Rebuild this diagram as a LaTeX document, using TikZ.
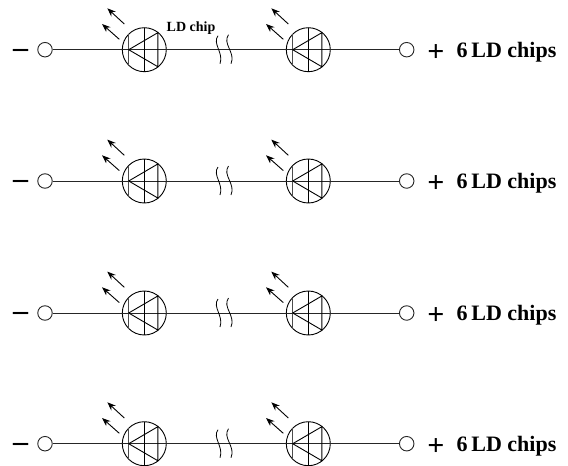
\documentclass[tikz,border=0pt]{standalone}
\usepackage{fontspec}
\setmainfont{Liberation Serif}
\usetikzlibrary{arrows.meta}
\tikzset{
  wire/.style={line width=0.9pt,black!85},
  term/.style={circle,draw,line width=0.9pt,black!85,minimum size=14.5pt,inner sep=0pt},
  ledcirc/.style={circle,draw,line width=0.9pt,black,minimum size=44pt,inner sep=0pt},
  bigtxt/.style={font=\fontsize{22}{24}\selectfont\bfseries,inner sep=0pt},
  signtxt/.style={font=\fontsize{30}{31}\selectfont\bfseries,inner sep=0pt},
  smalltxt/.style={font=\fontsize{14}{16}\selectfont\bfseries,inner sep=0pt},
  lightarrow/.style={line width=0.9pt,-{Stealth[length=8.5pt,width=6.5pt]}},
  breakmark/.style={line width=0.8pt,black}
}
\begin{document}
\begin{tikzpicture}[x=1pt,y=-1pt]
\useasboundingbox (0,0) rectangle (568,466);
\foreach \r/\y in {1/49.7,2/181,3/313,4/443.7}{
  \begin{scope}[shift={(0,\y)}]
    \node[term] (tl\r) at (45,0) {};
    \node[term] (tr\r) at (406.7,0) {};
    \node[ledcirc] (a\r) at (144.3,0) {};
    \node[ledcirc] (b\r) at (308.3,0) {};
    \node[signtxt] (minus\r) at (20.5,3.5) {–};
    \node[signtxt] (plus\r) at (436,3) {+};
    \node[bigtxt,anchor=base west] (lab\r) at (456.5,7.5) {6\,LD chips};
    \draw[wire] (tl\r) -- (a\r.center);
    \draw[wire] (a\r.center) -- (b\r.center);
    \draw[wire] (b\r.center) -- (tr\r);
    \foreach \n/\cx in {a/144.3,b/308.3}{
      \begin{scope}[shift={(\cx,0)}]
        \draw[line width=1.1pt,black!70] (-15.6,-15.5) -- (-15.6,15.5);
        \draw[line width=0.9pt] (0,-22) -- (0,22);
        \draw[line width=0.9pt] (13.5,-17) -- (-15.6,0) -- (13.5,17) -- cycle;
        \draw[lightarrow] (-20,-25.7) -- (-37,-41.4);
        \draw[lightarrow] (-25,-10.4) -- (-42.3,-25.7);
      \end{scope}
    }
    \draw[breakmark] (218,-14) .. controls (212,-6) and (224,3) .. (220,14);
    \draw[breakmark] (228.5,-15) .. controls (222,-6) and (236,3) .. (231,14);
  \end{scope}
}
\node[smalltxt,anchor=west] (chip) at (166.5,28.5) {LD chip};
\end{tikzpicture}
\end{document}
